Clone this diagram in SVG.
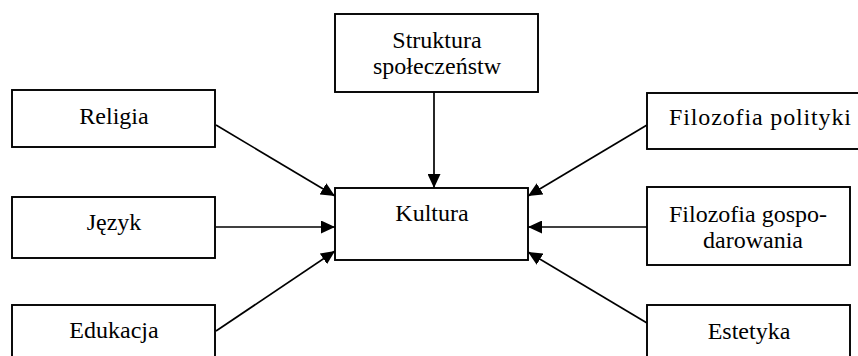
<svg xmlns="http://www.w3.org/2000/svg" width="858" height="356" viewBox="0 0 858 356">
<style>
.box{fill:#fff;stroke:#000;stroke-width:1.9}
.lbl{font-family:"Liberation Serif","Times New Roman",Times,serif;font-size:24px;fill:#000;text-anchor:middle}
.con line{stroke:#000;stroke-width:1.7}
</style>
<defs>
<marker id="ah" viewBox="0 0 14 13" refX="14" refY="6.5" markerWidth="14" markerHeight="13" markerUnits="userSpaceOnUse" orient="auto">
<path d="M0,0 L14,6.5 L0,13 Z" fill="#000"/>
</marker>
</defs>
<rect width="858" height="356" fill="#fff"/>
<g class="con">
<line x1="434" y1="92" x2="434" y2="188" marker-end="url(#ah)"/>
<line x1="216" y1="125" x2="335" y2="196" marker-end="url(#ah)"/>
<line x1="216" y1="227" x2="335" y2="227" marker-end="url(#ah)"/>
<line x1="216" y1="331" x2="335" y2="251" marker-end="url(#ah)"/>
<line x1="647" y1="125" x2="528" y2="196" marker-end="url(#ah)"/>
<line x1="647" y1="227" x2="528" y2="227" marker-end="url(#ah)"/>
<line x1="647" y1="323" x2="528" y2="252" marker-end="url(#ah)"/>
</g>
<g id="struktura">
<rect class="box" x="335" y="14" width="203" height="78"/>
<text class="lbl" x="437" y="48">Struktura</text>
<text class="lbl" x="437" y="74">społeczeństw</text>
</g>
<g id="kultura">
<rect class="box" x="335" y="188" width="193" height="72"/>
<text class="lbl" x="432" y="221">Kultura</text>
</g>
<g id="religia">
<rect class="box" x="12" y="90" width="203" height="57"/>
<text class="lbl" x="114" y="124">Religia</text>
</g>
<g id="jezyk">
<rect class="box" x="12" y="197" width="203" height="61"/>
<text class="lbl" x="114" y="230">Język</text>
</g>
<g id="edukacja">
<rect class="box" x="12" y="305" width="203" height="60"/>
<text class="lbl" x="114" y="338">Edukacja</text>
</g>
<g id="filozofia-polityki">
<rect class="box" x="647" y="93" width="227" height="56"/>
<text class="lbl" x="760" y="125" textLength="182" lengthAdjust="spacing">Filozofia polityki</text>
</g>
<g id="filozofia-gospodarowania">
<rect class="box" x="647" y="187" width="203" height="78"/>
<text class="lbl" x="748" y="222">Filozofia gospo-</text>
<text class="lbl" x="753" y="248">darowania</text>
</g>
<g id="estetyka">
<rect class="box" x="647" y="305" width="203" height="60"/>
<text class="lbl" x="749" y="339">Estetyka</text>
</g>
</svg>
